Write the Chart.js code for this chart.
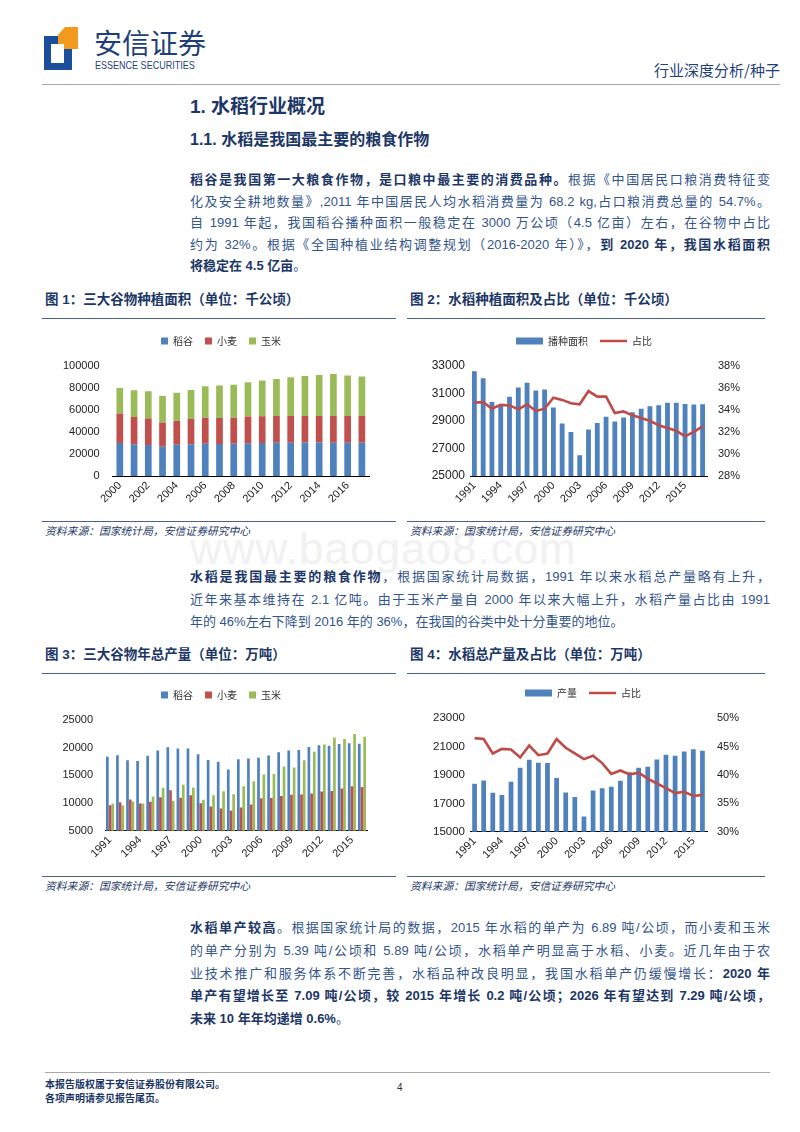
<!DOCTYPE html>
<html lang="zh">
<head>
<meta charset="utf-8">
<title>水稻行业概况</title>
<script src="https://cdn.jsdelivr.net/npm/chart.js@4.4.0/dist/chart.umd.min.js"></script>
<style>
  body { margin: 0; background: #fff; }
  #page { position: relative; width: 800px; height: 1132px; overflow: hidden;
          font-family: "Liberation Sans", "Noto Sans CJK SC", sans-serif; color: #34558a; }
  .abs { position: absolute; white-space: nowrap; }
  .para { position: absolute; left: 190px; width: 580px; font-size: 13px; }
  .para div { text-align: justify; text-align-last: justify; }
  .para div.last { text-align-last: left; }
  b { color: #1c3767; font-weight: bold; }
  .h1 { left: 190px; top: 95px; font-size: 19px; line-height: 24px; font-weight: bold; color: #1c3767; }
  .h2 { left: 190px; top: 129px; font-size: 16px; line-height: 22px; font-weight: bold; color: #1c3767; }
  .fig { font-size: 13.5px; line-height: 16px; font-weight: bold; color: #1c3767; }
  .rule { position: absolute; height: 1px; background: #4a6285; }
  .src { font-size: 10.8px; line-height: 14px; font-style: italic; color: #1c3767; }
  .chart { position: absolute; }
  .mark { left: 190px; top: 524px; font-size: 44px; line-height: 50px; color: #f1f1f1; letter-spacing: 1px; }
</style>
</head>
<body>
<div id="page">
  <!-- header -->
  <div class="abs" style="left:44px;top:36px;width:28px;height:34px;background:#1b4f9c;"></div>
  <div class="abs" style="left:51px;top:44px;width:13px;height:19px;background:#fff;"></div>
  <div class="abs" style="left:58px;top:27px;width:20px;height:22px;background:#f29a1f;clip-path:polygon(35% 0,100% 0,100% 100%,0 100%,0 35%);"></div>
  <div class="abs" style="left:58px;top:44px;width:6px;height:5px;background:#fff;"></div>
  <div class="abs" style="left:94px;top:25px;font-size:28px;line-height:34px;color:#1f3f7a;font-family:'Noto Sans CJK SC';">安信证券</div>
  <div class="abs" style="left:95px;top:59px;font-size:11px;line-height:12px;color:#1f3f7a;transform:scaleX(0.82);transform-origin:left;">ESSENCE SECURITIES</div>
  <div class="abs" style="right:20px;top:61px;font-size:15px;line-height:18px;color:#1f3f7a;font-family:'Noto Sans CJK SC';">行业深度分析/种子</div>
  <div class="rule" style="left:42px;top:84px;width:738px;background:#a8a8a8;"></div>

  <div class="abs h1">1. 水稻行业概况</div>
  <div class="abs h2">1.1. 水稻是我国最主要的粮食作物</div>

  <div class="para" style="top:169px;line-height:21.5px;">
    <div><b>稻谷是我国第一大粮食作物，是口粮中最主要的消费品种。</b>根据《中国居民口粮消费特征变</div>
    <div>化及安全耕地数量》,2011 年中国居民人均水稻消费量为 68.2 kg,占口粮消费总量的 54.7%。</div>
    <div>自 1991 年起，我国稻谷播种面积一般稳定在 3000 万公顷（4.5 亿亩）左右，在谷物中占比</div>
    <div>约为 32%。根据《全国种植业结构调整规划（2016-2020 年）》，<b>到 2020 年，我国水稻面积</b></div>
    <div class="last"><b>将稳定在 4.5 亿亩</b>。</div>
  </div>

  <div class="abs fig" style="left:45px;top:292px;">图 1：三大谷物种植面积（单位：千公顷）</div>
  <div class="abs fig" style="left:410px;top:292px;">图 2：水稻种植面积及占比（单位：千公顷）</div>
  <div class="rule" style="left:42px;top:318px;width:354px;"></div>
  <div class="rule" style="left:407px;top:318px;width:358px;"></div>

  <div class="abs mark">www.baogao8.com</div>

  <div class="chart" style="left:45px;top:320px;"><canvas id="c1" width="355" height="200"></canvas></div>
  <div class="chart" style="left:410px;top:320px;"><canvas id="c2" width="355" height="200"></canvas></div>

  <div class="rule" style="left:42px;top:521px;width:354px;"></div>
  <div class="rule" style="left:407px;top:521px;width:358px;"></div>
  <div class="abs src" style="left:45px;top:524px;">资料来源：国家统计局，安信证券研究中心</div>
  <div class="abs src" style="left:410px;top:524px;">资料来源：国家统计局，安信证券研究中心</div>

  <div class="para" style="top:566px;line-height:22.5px;">
    <div><b>水稻是我国最主要的粮食作物</b>，根据国家统计局数据，1991 年以来水稻总产量略有上升，</div>
    <div>近年来基本维持在 2.1 亿吨。由于玉米产量自 2000 年以来大幅上升，水稻产量占比由 1991</div>
    <div class="last">年的 46%左右下降到 2016 年的 36%，在我国的谷类中处十分重要的地位。</div>
  </div>

  <div class="abs fig" style="left:45px;top:647px;">图 3：三大谷物年总产量（单位：万吨）</div>
  <div class="abs fig" style="left:410px;top:647px;">图 4：水稻总产量及占比（单位：万吨）</div>
  <div class="rule" style="left:42px;top:673px;width:354px;"></div>
  <div class="rule" style="left:407px;top:673px;width:358px;"></div>

  <div class="chart" style="left:45px;top:672px;"><canvas id="c3" width="355" height="200"></canvas></div>
  <div class="chart" style="left:410px;top:672px;"><canvas id="c4" width="355" height="200"></canvas></div>

  <div class="rule" style="left:42px;top:876px;width:354px;"></div>
  <div class="rule" style="left:407px;top:876px;width:358px;"></div>
  <div class="abs src" style="left:45px;top:879px;">资料来源：国家统计局，安信证券研究中心</div>
  <div class="abs src" style="left:410px;top:879px;">资料来源：国家统计局，安信证券研究中心</div>

  <div class="para" style="top:917px;line-height:22.75px;">
    <div><b>水稻单产较高</b>。根据国家统计局的数据，2015 年水稻的单产为 6.89 吨/公顷，而小麦和玉米</div>
    <div>的单产分别为 5.39 吨/公顷和 5.89 吨/公顷，水稻单产明显高于水稻、小麦。近几年由于农</div>
    <div>业技术推广和服务体系不断完善，水稻品种改良明显，我国水稻单产仍缓慢增长：<b>2020 年</b></div>
    <div><b>单产有望增长至 7.09 吨/公顷，较 2015 年增长 0.2 吨/公顷；2026 年有望达到 7.29 吨/公顷，</b></div>
    <div class="last"><b>未来 10 年年均递增 0.6%</b>。</div>
  </div>

  <!-- footer -->
  <div class="rule" style="left:45px;top:1072px;width:725px;background:#a8a8a8;"></div>
  <div class="abs" style="left:45px;top:1078px;font-size:10px;line-height:14px;font-weight:bold;color:#1c3767;">本报告版权属于安信证券股份有限公司。</div>
  <div class="abs" style="left:45px;top:1092px;font-size:10px;line-height:14px;font-weight:bold;color:#1c3767;">各项声明请参见报告尾页。</div>
  <div class="abs" style="left:397px;top:1081px;font-size:10px;line-height:14px;color:#333;">4</div>
</div>

<script>
// Figure 1: sown area of the three grains, 2000-2017 (thousand ha)
const areaYears = ['2000', '2001', '2002', '2003', '2004', '2005', '2006', '2007', '2008',
                   '2009', '2010', '2011', '2012', '2013', '2014', '2015', '2016', '2017'];
const riceArea = [29960, 28810, 28200, 26510, 28380, 28850, 29300, 28950, 29240,
                  29630, 29870, 30060, 30140, 30310, 30310, 30220, 30180, 30200];
const wheatArea = [26650, 24660, 23910, 22000, 21630, 22790, 23610, 23720, 23620,
                   24290, 24260, 24270, 24270, 24120, 24070, 24140, 24190, 24510];
const cornArea = [23060, 24280, 24630, 24070, 25450, 26360, 28460, 29480, 29860,
                  31180, 32500, 33540, 35030, 36320, 37120, 38120, 36770, 35450];

// Figure 2: rice sown area and its share, 1991-2017
const longYears = ['1991', '1992', '1993', '1994', '1995', '1996', '1997', '1998', '1999',
                   '2000', '2001', '2002', '2003', '2004', '2005', '2006', '2007', '2008',
                   '2009', '2010', '2011', '2012', '2013', '2014', '2015', '2016', '2017'];
const riceSown = [32590, 32090, 30360, 30170, 30740, 31410, 31770, 31210, 31280,
                  29960, 28810, 28200, 26510, 28380, 28850, 29300, 28950, 29240,
                  29630, 29870, 30060, 30140, 30310, 30310, 30220, 30180, 30200];
const sownShare = [34.65, 34.7, 34.1, 34.45, 34.4, 34.05, 34.5, 33.9, 34.1,
                   35.1, 34.9, 34.6, 34.5, 35.7, 35.2, 35.2, 33.7, 33.85,
                   33.5, 33.25, 33.0, 32.6, 32.35, 32.1, 31.6, 32.0, 32.5];

// Figure 3 and 4: output, 1991-2016 (10k tonnes)
const outYears = longYears.slice(0, 26);
const riceOut = [18380, 18620, 17750, 17590, 18520, 19510, 20070, 19870, 19850,
                 18790, 17760, 17450, 16070, 17910, 18060, 18170, 18600, 19190,
                 19510, 19580, 20100, 20420, 20360, 20650, 20820, 20710];
const wheatOut = [9600, 10160, 10640, 9930, 10220, 11060, 12330, 10970, 11390,
                  9960, 9390, 9030, 8650, 9200, 9750, 10850, 10930, 11250,
                  11510, 11520, 11740, 12100, 12190, 12620, 13020, 12890];
const cornOut = [9880, 9540, 10270, 9930, 11200, 12750, 10430, 13300, 12810,
                 10600, 11410, 12130, 11580, 13030, 13940, 15160, 15230, 16590,
                 16400, 17730, 19280, 20560, 21850, 21570, 22460, 21960];
const outShare = [46.5, 46.35, 43.8, 44.6, 44.5, 43.1, 45.2, 43.5, 43.8,
                  46.35, 44.8, 43.8, 42.8, 43.4, 42.1, 40.2, 40.8, 40.1,
                  40.4, 39.35, 38.5, 37.7, 36.8, 37.05, 36.3, 36.5];

const BLUE = '#4f81bd', RED = '#c0504d', GREEN = '#9bbb59', LINE = '#be4b48';

Chart.defaults.font.family = '"Liberation Sans", Arial, sans-serif';
Chart.defaults.font.size = 11;
Chart.defaults.color = '#222';

// fix the legend box height and nudge it sideways so it sits where the original one does
function legendBox(h, dx) {
  return {
    id: 'legendBox',
    beforeInit(chart) {
      const legend = chart.legend;
      const fit = legend.fit;
      const draw = legend.draw;
      legend.fit = function () { fit.call(this); this.height = h; };
      legend.draw = function () {
        const ctx = this.ctx;
        ctx.save();
        ctx.translate(dx, 0);
        draw.apply(this, arguments);
        ctx.restore();
      };
    }
  };
}

function skipLabels(step) {
  return function (value, index) { return index % step === 0 ? this.getLabelForValue(value) : ''; };
}

const legendFont = { family: '"Noto Sans CJK SC"', size: 10 };
const noGrid = { display: false, drawTicks: false };

function xAxis(step, height, extra) {
  return Object.assign({
    grid: noGrid,
    border: { color: '#000' },
    ticks: { autoSkip: false, minRotation: 45, maxRotation: 45, padding: 3, callback: skipLabels(step) },
    afterFit: s => { s.height = height; }
  }, extra || {});
}

function yAxis(min, max, step, width, pad, fmt, size, extra) {
  return Object.assign({
    min: min, max: max,
    grid: noGrid,
    border: { display: false },
    ticks: { stepSize: step, padding: pad, callback: fmt, font: { size: size } },
    afterFit: s => { s.width = width; }
  }, extra || {});
}

const plain = v => v;
const pct = v => v + '%';

// Figure 1
new Chart(document.getElementById('c1'), {
  type: 'bar',
  data: {
    labels: areaYears,
    datasets: [
      { label: '稻谷', data: riceArea, backgroundColor: BLUE },
      { label: '小麦', data: wheatArea, backgroundColor: RED },
      { label: '玉米', data: cornArea, backgroundColor: GREEN }
    ]
  },
  options: {
    responsive: false,
    animation: false,
    layout: { padding: { left: 0, right: 31, top: 4, bottom: 0 } },
    datasets: { bar: { categoryPercentage: 1, barPercentage: 0.47 } },
    scales: {
      x: xAxis(2, 44, { stacked: true }),
      y: yAxis(0, 100000, 20000, 67.7, 13, plain, 11, { stacked: true })
    },
    plugins: {
      legend: { labels: { boxWidth: 7, boxHeight: 7, padding: 12, font: legendFont, color: '#333' } },
      tooltip: { enabled: false }
    }
  },
  plugins: [legendBox(41.7, 14)]
});

// Figure 2
new Chart(document.getElementById('c2'), {
  type: 'bar',
  data: {
    labels: longYears,
    datasets: [
      { type: 'bar', label: '播种面积', data: riceSown, backgroundColor: BLUE, yAxisID: 'y',
        order: 1, pointStyle: 'rect', categoryPercentage: 1, barPercentage: 0.55 },
      { type: 'line', label: '占比', data: sownShare, borderColor: LINE, backgroundColor: LINE,
        borderWidth: 2.6, pointRadius: 0, yAxisID: 'y1', order: 0, pointStyle: 'line' }
    ]
  },
  options: {
    responsive: false,
    animation: false,
    layout: { padding: { left: 0, right: 20, top: 4, bottom: 0 } },
    scales: {
      x: xAxis(3, 44),
      y: yAxis(25000, 33000, 2000, 60, 5, plain, 12),
      y1: yAxis(28, 38, 2, 38, 11, pct, 11, { position: 'right' })
    },
    plugins: {
      legend: { labels: { usePointStyle: true, pointStyleWidth: 27, boxHeight: 7, padding: 12,
                          font: legendFont, color: '#333', sort: (a, b) => a.datasetIndex - b.datasetIndex } },
      tooltip: { enabled: false }
    }
  },
  plugins: [legendBox(41.7, 6.5)]
});

// Figure 3
new Chart(document.getElementById('c3'), {
  type: 'bar',
  data: {
    labels: outYears,
    datasets: [
      { label: '稻谷', data: riceOut, backgroundColor: BLUE },
      { label: '小麦', data: wheatOut, backgroundColor: RED },
      { label: '玉米', data: cornOut, backgroundColor: GREEN }
    ]
  },
  options: {
    responsive: false,
    animation: false,
    layout: { padding: { left: 0, right: 33, top: 6, bottom: 0 } },
    datasets: { bar: { categoryPercentage: 0.8, barPercentage: 1 } },
    scales: {
      x: xAxis(3, 41.3),
      y: yAxis(5000, 25000, 5000, 60, 12, plain, 11)
    },
    plugins: {
      legend: { labels: { boxWidth: 7, boxHeight: 7, padding: 12, font: legendFont, color: '#333' } },
      tooltip: { enabled: false }
    }
  },
  plugins: [legendBox(42, 15)]
});

// Figure 4
new Chart(document.getElementById('c4'), {
  type: 'bar',
  data: {
    labels: outYears,
    datasets: [
      { type: 'bar', label: '产量', data: riceOut, backgroundColor: BLUE, yAxisID: 'y',
        order: 1, pointStyle: 'rect', categoryPercentage: 1, barPercentage: 0.52 },
      { type: 'line', label: '占比', data: outShare, borderColor: LINE, backgroundColor: LINE,
        borderWidth: 2.6, pointRadius: 0, yAxisID: 'y1', order: 0, pointStyle: 'line' }
    ]
  },
  options: {
    responsive: false,
    animation: false,
    layout: { padding: { left: 0, right: 20, top: 4, bottom: 0 } },
    scales: {
      x: xAxis(3, 40.3),
      y: yAxis(15000, 23000, 2000, 60, 5, plain, 11.5),
      y1: yAxis(30, 50, 5, 38, 10, pct, 11, { position: 'right' })
    },
    plugins: {
      legend: { labels: { usePointStyle: true, pointStyleWidth: 27, boxHeight: 7, padding: 12,
                          font: legendFont, color: '#333', sort: (a, b) => a.datasetIndex - b.datasetIndex } },
      tooltip: { enabled: false }
    }
  },
  plugins: [legendBox(42.3, 5.5)]
});
</script>
</body>
</html>
